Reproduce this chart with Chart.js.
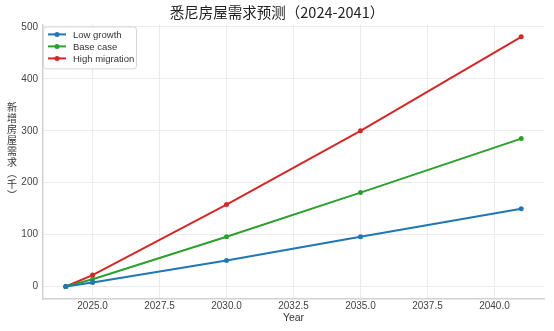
<!DOCTYPE html>
<html>
<head>
<meta charset="utf-8">
<script src="https://cdn.jsdelivr.net/npm/chart.js@4.4.1/dist/chart.umd.min.js"></script>
<style>
  html, body { margin: 0; padding: 0; background: #fff; }
  #wrap { width: 554px; height: 331px; }
</style>
</head>
<body>
<div id="wrap"><canvas id="demandChart" width="554" height="331"></canvas></div>
<script>
// Sydney housing demand projections, thousands of new dwellings
const years = [2024, 2025, 2030, 2035, 2041];
const lowGrowth = [0, 8, 50, 96, 150];
const baseCase = [0, 14, 96, 181, 285];
const highMigration = [0, 22, 158, 300, 481];
const seriesNames = ["Low growth", "Base case", "High migration"];
const seriesColors = ["#1f77b4", "#2ca02c", "#d62728"];
const yTicks = [0, 100, 200, 300, 400, 500];

const yLabel = ["新", "增", "房", "屋", "需", "求", "︵", "千", "︶"];
const latin = "'Liberation Sans', Arial, 'Noto Sans CJK SC', sans-serif";
const cjk = "'Noto Sans CJK SC', 'Liberation Sans', sans-serif";

const pts = arr => years.map((y, i) => ({x: y, y: arr[i]}));

const datasets = [lowGrowth, baseCase, highMigration].map((arr, i) => ({
  label: seriesNames[i],
  data: pts(arr),
  borderColor: seriesColors[i],
  backgroundColor: seriesColors[i],
  borderWidth: 2,
  pointRadius: 2.5,
  pointHoverRadius: 2.5,
  pointBorderWidth: 0,
  tension: 0
}));

// stacked y label + legend box inside the plot
const extras = {
  id: "extras",
  afterDraw(chart) {
    const ctx = chart.ctx;
    const area = chart.chartArea;
    ctx.save();
    ctx.setTransform(1, 0, 0, 1, 0, 0);
    ctx.fillStyle = "#333";
    ctx.font = "10px " + cjk;
    ctx.textAlign = "center";
    ctx.textBaseline = "middle";
    yLabel.forEach((c, i) => ctx.fillText(c, 12, 107 + i * 11));

    // legend
    const bx = area.left, by = area.top + 2, bw = 93, bh = 42;
    ctx.fillStyle = "rgba(255,255,255,0.85)";
    ctx.strokeStyle = "#d6d6d6";
    ctx.lineWidth = 1;
    ctx.beginPath();
    ctx.roundRect(bx + 0.5, by + 0.5, bw, bh, 3);
    ctx.fill();
    ctx.stroke();
    ctx.font = "9.5px " + latin;
    ctx.textAlign = "left";
    seriesNames.forEach((name, i) => {
      const y = by + 8 + i * 12;
      ctx.strokeStyle = seriesColors[i];
      ctx.fillStyle = seriesColors[i];
      ctx.lineWidth = 2;
      ctx.beginPath();
      ctx.moveTo(bx + 5, y);
      ctx.lineTo(bx + 23, y);
      ctx.stroke();
      ctx.beginPath();
      ctx.arc(bx + 14, y, 2.5, 0, Math.PI * 2);
      ctx.fill();
      ctx.fillStyle = "#333";
      ctx.fillText(name, bx + 30, y + 0.5);
    });
    ctx.restore();
  }
};

new Chart(document.getElementById("demandChart"), {
  type: "line",
  data: {datasets},
  plugins: [extras],
  options: {
    responsive: false,
    animation: false,
    layout: {padding: {left: 10, right: 10, top: 0, bottom: 0}},
    plugins: {
      legend: {display: false},
      tooltip: {enabled: false},
      title: {
        display: true,
        text: "悉尼房屋需求预测（2024-2041）",
        color: "#222",
        font: {family: cjk, size: 14.5, weight: "normal"},
        padding: {top: 4, bottom: 3}
      }
    },
    scales: {
      x: {
        type: "linear",
        min: 2023.15,
        max: 2041.85,
        afterFit: s => { s.height = 32; },
        ticks: {
          stepSize: 2.5,
          includeBounds: false,
          padding: 1,
          color: "#444",
          font: {family: latin, size: 10},
          maxRotation: 0,
          callback: v => v.toFixed(1)
        },
        grid: {color: "#ebebeb", drawTicks: false},
        border: {color: "#d2d2d2", width: 1.5},
        title: {
          display: true,
          text: "Year",
          color: "#333",
          font: {family: latin, size: 10.5},
          padding: {top: 0, bottom: 7}
        }
      },
      y: {
        min: -24,
        max: 505,
        afterFit: s => { s.width = 33; },
        afterBuildTicks: s => { s.ticks = yTicks.map(v => ({value: v})); },
        ticks: {
          padding: 5,
          color: "#444",
          font: {family: latin, size: 10}
        },
        grid: {color: "#ebebeb", drawTicks: false},
        border: {color: "#d2d2d2", width: 1.5}
      }
    }
  }
});
</script>
</body>
</html>
